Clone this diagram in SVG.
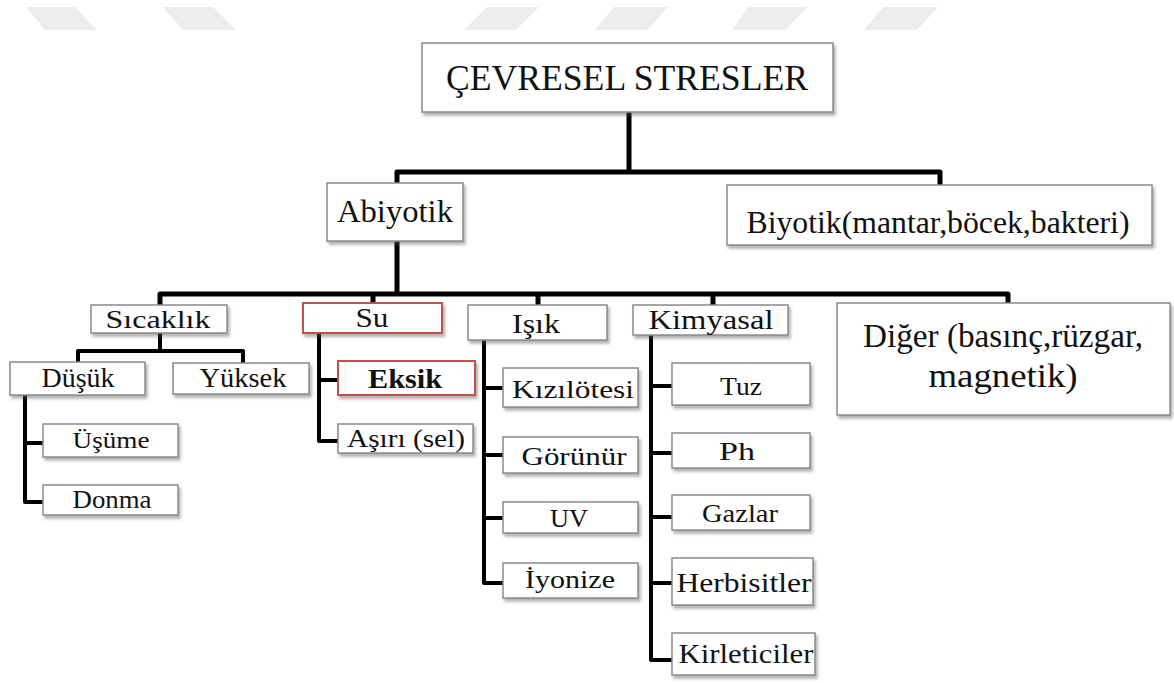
<svg xmlns="http://www.w3.org/2000/svg" width="1174" height="683" viewBox="0 0 1174 683">
<style>
.bx{fill:#fff;stroke:#8a8a8a;stroke-width:1.5;filter:url(#sh)}
.rd{fill:#fff;stroke:#c0504d;stroke-width:2;filter:url(#sh)}
.t{font-family:'Liberation Serif','DejaVu Serif',serif;fill:#111;text-anchor:middle}
.c{fill:none;stroke:#000;stroke-linejoin:round;stroke-linecap:butt}
.wm{fill:#ececec}
</style>
<defs>
<filter id="sh" x="-10%" y="-20%" width="130%" height="160%">
<feDropShadow dx="2" dy="3" stdDeviation="1.5" flood-color="#555" flood-opacity="0.45"/>
</filter>
</defs>
<rect width="1174" height="683" fill="#fff"/>
<g id="watermark">
<polygon class="wm" points="26,7 75,7 97,30 45,30"/>
<polygon class="wm" points="163,7 213,7 236,30 183,30"/>
<polygon class="wm" points="487,7 539,7 516,30 464,30"/>
<polygon class="wm" points="614,7 668,7 647,30 595,30"/>
<polygon class="wm" points="748,7 807,7 786,30 732,30"/>
<polygon class="wm" points="883,7 938,7 917,30 864,30"/>
</g>
<g id="connectors">
<path class="c" stroke-width="5" d="M629,112 V172 M397,183 V172 H940 V185"/>
<path class="c" stroke-width="5" d="M397,241 V294 M160,305 V294 H1008 V303 M373,294 V303 M538,294 V305 M713,294 V305"/>
<path class="c" stroke-width="4" d="M160,333 V351 M78,362 V351 H243 V363"/>
<path class="c" stroke-width="4" d="M25,395 V502 H43 M25,443 H43"/>
<path class="c" stroke-width="4" d="M319,333 V441 H338 M319,380 H338"/>
<path class="c" stroke-width="4" d="M484,340 V583 H503 M484,388 H503 M484,455 H503 M484,518 H503"/>
<path class="c" stroke-width="4" d="M651,335 V660 H672 M651,386 H672 M651,453 H672 M651,517 H672 M651,583 H672"/>
</g>
<g id="n-root"><rect class="bx" x="422" y="43" width="411" height="69"/><text class="t" x="627" y="90" font-size="35" textLength="362" lengthAdjust="spacingAndGlyphs">ÇEVRESEL STRESLER</text></g>
<g id="n-abiyotik"><rect class="bx" x="327" y="183" width="136" height="58"/><text class="t" x="395" y="222" font-size="32" textLength="116" lengthAdjust="spacingAndGlyphs">Abiyotik</text></g>
<g id="n-biyotik"><rect class="bx" x="727" y="185" width="425" height="60"/><text class="t" x="938" y="233" font-size="32" textLength="383" lengthAdjust="spacingAndGlyphs">Biyotik(mantar,böcek,bakteri)</text></g>
<g id="n-sicaklik"><rect class="bx" x="91" y="305" width="136" height="28"/><text class="t" x="158" y="328" font-size="26" textLength="105" lengthAdjust="spacingAndGlyphs">Sıcaklık</text></g>
<g id="n-su"><rect class="rd" x="303" y="303" width="139" height="30"/><text class="t" x="372" y="327" font-size="27" textLength="33" lengthAdjust="spacingAndGlyphs">Su</text></g>
<g id="n-isik"><rect class="bx" x="468" y="305" width="139" height="35"/><text class="t" x="536" y="333" font-size="28" textLength="48" lengthAdjust="spacingAndGlyphs">Işık</text></g>
<g id="n-kimyasal"><rect class="bx" x="633" y="305" width="155" height="30"/><text class="t" x="711" y="329" font-size="27" textLength="125" lengthAdjust="spacingAndGlyphs">Kimyasal</text></g>
<g id="n-diger"><rect class="bx" x="837" y="303" width="333" height="112"/><text class="t" x="1003" y="347" font-size="34" textLength="280" lengthAdjust="spacingAndGlyphs">Diğer (basınç,rüzgar,</text><text class="t" x="1003" y="387" font-size="34" textLength="149" lengthAdjust="spacingAndGlyphs">magnetik)</text></g>
<g id="n-dusuk"><rect class="bx" x="10" y="362" width="135" height="33"/><text class="t" x="78" y="387" font-size="27" textLength="73" lengthAdjust="spacingAndGlyphs">Düşük</text></g>
<g id="n-yuksek"><rect class="bx" x="173" y="363" width="136" height="31"/><text class="t" x="243" y="387" font-size="27" textLength="87" lengthAdjust="spacingAndGlyphs">Yüksek</text></g>
<g id="n-usume"><rect class="bx" x="43" y="424" width="135" height="33"/><text class="t" x="111" y="448" font-size="24" textLength="77" lengthAdjust="spacingAndGlyphs">Üşüme</text></g>
<g id="n-donma"><rect class="bx" x="43" y="485" width="135" height="30"/><text class="t" x="112" y="508" font-size="25" textLength="79" lengthAdjust="spacingAndGlyphs">Donma</text></g>
<g id="n-eksik"><rect class="rd" x="338" y="361" width="137" height="34"/><text class="t" x="405" y="388" font-size="28" font-weight="bold" textLength="74" lengthAdjust="spacingAndGlyphs">Eksik</text></g>
<g id="n-asiri"><rect class="bx" x="338" y="424" width="135" height="29"/><text class="t" x="406" y="447" font-size="25" textLength="118" lengthAdjust="spacingAndGlyphs">Aşırı (sel)</text></g>
<g id="n-kizilotesi"><rect class="bx" x="503" y="368" width="135" height="39"/><text class="t" x="573" y="398" font-size="26" textLength="122" lengthAdjust="spacingAndGlyphs">Kızılötesi</text></g>
<g id="n-gorunur"><rect class="bx" x="503" y="437" width="135" height="36"/><text class="t" x="574" y="465" font-size="26" textLength="105" lengthAdjust="spacingAndGlyphs">Görünür</text></g>
<g id="n-uv"><rect class="bx" x="503" y="502" width="135" height="31"/><text class="t" x="569" y="527" font-size="26" textLength="38" lengthAdjust="spacingAndGlyphs">UV</text></g>
<g id="n-iyonize"><rect class="bx" x="503" y="563" width="135" height="35"/><text class="t" x="570" y="588" font-size="26" textLength="90" lengthAdjust="spacingAndGlyphs">İyonize</text></g>
<g id="n-tuz"><rect class="bx" x="672" y="363" width="138" height="42"/><text class="t" x="741" y="395" font-size="26" textLength="42" lengthAdjust="spacingAndGlyphs">Tuz</text></g>
<g id="n-ph"><rect class="bx" x="672" y="433" width="138" height="35"/><text class="t" x="737" y="460" font-size="26" textLength="36" lengthAdjust="spacingAndGlyphs">Ph</text></g>
<g id="n-gazlar"><rect class="bx" x="672" y="495" width="138" height="35"/><text class="t" x="740" y="522" font-size="26" textLength="76" lengthAdjust="spacingAndGlyphs">Gazlar</text></g>
<g id="n-herbisitler"><rect class="bx" x="672" y="558" width="141" height="47"/><text class="t" x="744" y="592" font-size="27" textLength="135" lengthAdjust="spacingAndGlyphs">Herbisitler</text></g>
<g id="n-kirleticiler"><rect class="bx" x="672" y="633" width="143" height="42"/><text class="t" x="746" y="663" font-size="27" textLength="135" lengthAdjust="spacingAndGlyphs">Kirleticiler</text></g>
</svg>
